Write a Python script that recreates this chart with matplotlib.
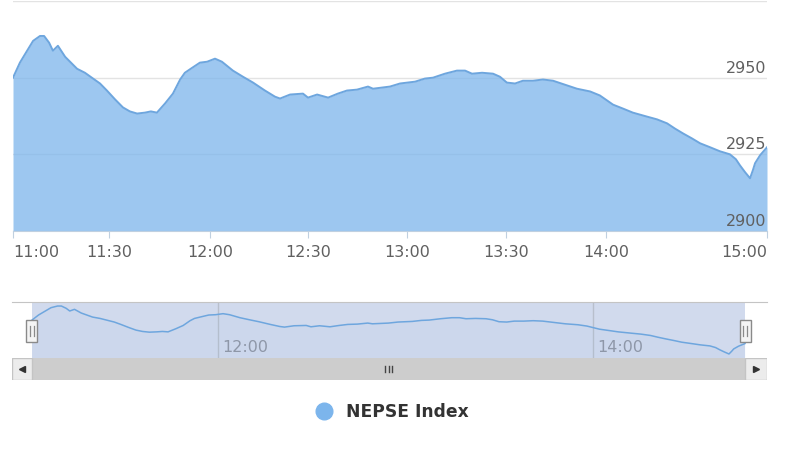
import matplotlib
matplotlib.use("Agg")
import matplotlib.pyplot as plt
from matplotlib.lines import Line2D
from matplotlib.patches import Rectangle
import matplotlib.transforms as mtransforms

# ordinal position of each point (Highstock-style equal spacing) and index value
pos = [0, 2.2, 4.5, 6.4, 8.6, 9.9, 11.5, 12.7, 14.3, 16.6, 20.4, 22.9, 25.5, 27.7,
       29.9, 32.5, 35.0, 37.2, 39.5, 42.0, 43.9, 45.8, 48.4, 50.9, 53.2, 54.7, 57.0,
       59.5, 61.8, 64.3, 66.5, 70.0, 73.2, 76.4, 80.2, 83.4, 85.0, 88.2, 92.3, 93.9,
       96.8, 100.3, 103.4, 106.3, 109.5, 113.0, 114.6, 120.0, 123.2, 128.0, 131.1,
       133.7, 137.5, 141.3, 143.9, 146.1, 149.3, 152.8, 155.0, 157.2, 159.8, 162.3,
       165.5, 168.7, 171.9, 175.7, 179.5, 183.7, 186.8, 191.0, 194.2, 197.3, 201.8,
       205.0, 208.2, 210.7, 213.3, 216.1, 218.7, 221.9, 225.0, 228.2, 230.1, 231.4,
       233.0, 234.6, 235.5, 236.2, 237.8, 240.0]
nepse = [2950.0, 2954.9, 2958.8, 2962.0, 2963.6, 2963.6, 2961.4, 2958.8, 2960.4,
         2956.8, 2952.9, 2951.6, 2949.7, 2948.1, 2945.8, 2942.9, 2940.3, 2939.0,
         2938.3, 2938.6, 2939.0, 2938.6, 2941.6, 2944.8, 2949.4, 2951.6, 2953.2,
         2954.9, 2955.2, 2956.2, 2955.2, 2952.3, 2950.3, 2948.4, 2945.8, 2943.8,
         2943.2, 2944.5, 2944.8, 2943.5, 2944.5, 2943.5, 2944.8, 2945.8, 2946.1,
         2947.1, 2946.4, 2947.1, 2948.1, 2948.7, 2949.7, 2950.0, 2951.3, 2952.3,
         2952.3, 2951.3, 2951.6, 2951.3, 2950.3, 2948.4, 2948.1, 2949.0, 2949.0,
         2949.4, 2949.0, 2947.7, 2946.4, 2945.5, 2944.2, 2941.2, 2939.9, 2938.6,
         2937.3, 2936.4, 2935.1, 2933.4, 2931.8, 2930.2, 2928.6, 2927.3, 2926.0,
         2925.0, 2923.4, 2921.4, 2919.2, 2917.2, 2919.8, 2922.1, 2924.7, 2927.3]

tick_pos = [0, 30.6, 62.7, 93.9, 125.4, 156.9, 188.8, 240]
tick_labels = ["11:00", "11:30", "12:00", "12:30", "13:00", "13:30", "14:00", "15:00"]
nav_tick_pos = [62.7, 188.8]
nav_tick_labels = ["12:00", "14:00"]
y_ticks = [2900, 2925, 2950, 2975]
y_labels = ["2900", "2925", "2950"]

W, H = 800, 450
SERIES = "#7cb5ec"
LINE = "#6ea6de"
LABEL = "#606060"


def px_rect(x0, y0, x1, y1):
    return [x0 / W, 1 - y1 / H, (x1 - x0) / W, (y1 - y0) / H]


plt.rcParams["font.family"] = ["DejaVu Sans"]
fig = plt.figure(figsize=(8, 4.5), dpi=100)

# main chart
ax = fig.add_axes(px_rect(13, 1, 767, 231))
ax.fill_between(pos, nepse, 2900, color=SERIES, alpha=0.75, lw=0, zorder=2)
ax.plot(pos, nepse, color=LINE, lw=1.4, zorder=3)
ax.set_xlim(0, 240)
ax.set_ylim(2900, 2975)
ax.set_yticks(y_ticks)
ax.yaxis.grid(True, color="#e3e3e3", lw=1)
ax.set_axisbelow(True)
ax.tick_params(axis="y", length=0, labelleft=False)
for s in ["top", "left", "right"]:
    ax.spines[s].set_visible(False)
ax.spines["bottom"].set_color("#c0d0e0")
ax.set_xticks(tick_pos)
ax.set_xticklabels(tick_labels, fontsize=11.5, color=LABEL)
ax.tick_params(axis="x", length=5, color="#c0d0e0", pad=5)
xl = ax.get_xticklabels()
xl[0].set_horizontalalignment("left")
xl[-1].set_horizontalalignment("right")
for v, lab in zip(y_ticks, y_labels):
    ax.annotate(lab, xy=(240, v), xytext=(-1, 2), textcoords="offset pixels",
                ha="right", va="bottom", fontsize=11.5, color=LABEL, zorder=5)

# navigator
nx0, nx1 = -6.73, 247.4
nav = fig.add_axes(px_rect(12, 302, 767, 358))
nav.set_xlim(nx0, nx1)
nav.set_ylim(2913.3, 2967.5)
nav.axvspan(0, 240, color="#d1daed", lw=0, zorder=0)
for p in nav_tick_pos:
    nav.axvline(p, color="#b8bfcc", lw=1, zorder=1)
for p, lab in zip(nav_tick_pos, nav_tick_labels):
    nav.annotate(lab, xy=(p, 0), xycoords=("data", "axes fraction"), xytext=(4, 10),
                 textcoords="offset pixels", ha="left", va="center", fontsize=11.5,
                 color="#8e97a8")
nav.fill_between(pos, nepse, 2913.3, color=SERIES, alpha=0.06, lw=0, zorder=2)
nav.plot(pos, nepse, color=LINE, lw=1.1, zorder=3)
nav.set_xticks([])
nav.set_yticks([])
for s in ["left", "right", "bottom"]:
    nav.spines[s].set_visible(False)
nav.spines["top"].set_color("#c4c4c4")
trans = mtransforms.blended_transform_factory(nav.transData, nav.transAxes)
for p in [0, 240]:
    nav.add_patch(Rectangle((p - 1.85, 0.29), 3.7, 0.39, transform=trans,
                            facecolor="#f4f4f4", edgecolor="#8a8a8a", lw=1,
                            clip_on=False, zorder=6))
    for dx in (-0.55, 0.55):
        nav.plot([p + dx, p + dx], [0.39, 0.58], transform=trans, color="#8a8a8a",
                 lw=0.9, clip_on=False, zorder=7)

# scrollbar
sb = fig.add_axes(px_rect(12, 358, 767, 380))
sb.set_xlim(nx0, nx1)
sb.set_ylim(0, 1)
sb.axis("off")
sb.add_patch(Rectangle((0, 0), 240, 1, facecolor="#cdcdcd", lw=0))
sb.add_patch(Rectangle((nx0, 0.02), -nx0, 0.96, facecolor="#ececec",
                       edgecolor="#c4c4c4", lw=1))
sb.add_patch(Rectangle((240, 0.02), nx1 - 240, 0.96, facecolor="#ececec",
                       edgecolor="#c4c4c4", lw=1))
sb.plot([nx0 / 2], [0.5], marker="<", ms=4, color="#333333")
sb.plot([(240 + nx1) / 2], [0.5], marker=">", ms=4, color="#333333")
for dx in (-1.15, 0, 1.15):
    sb.plot([120 + dx, 120 + dx], [0.36, 0.64], color="#444444", lw=1.0)

# legend
handle = Line2D([], [], marker="o", ls="none", ms=12, color=SERIES, label="NEPSE Index")
fig.legend(handles=[handle], loc="center", bbox_to_anchor=(388 / W, 1 - 412 / H),
           frameon=False, handletextpad=0.3, prop={"weight": "bold", "size": 12.3},
           labelcolor="#333333")

fig.savefig("out.png", dpi=100)
